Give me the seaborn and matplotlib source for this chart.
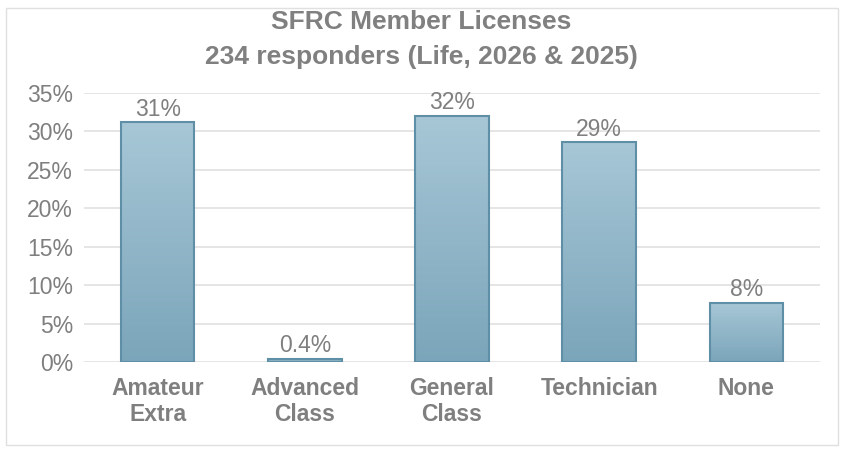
import numpy as np
import pandas as pd
import matplotlib.pyplot as plt
import matplotlib.colors as mcolors
from matplotlib.patches import Rectangle
import seaborn as sns

plt.switch_backend('Agg')

# data (234 responders)
categories = ['Amateur\nExtra', 'Advanced\nClass', 'General\nClass', 'Technician', 'None']
counts = [73, 1, 75, 67, 18]
total = 234
labels = ['31%', '0.4%', '32%', '29%', '8%']
yticks = [0, 5, 10, 15, 20, 25, 30, 35]

pct = [c / total * 100 for c in counts]
df = pd.DataFrame({'license': categories, 'pct': pct})

sns.set_theme(style='white')
plt.rcParams['font.family'] = ['Liberation Sans', 'DejaVu Sans']

W, H = 843, 455
fig = plt.figure(figsize=(W / 100, H / 100), dpi=100)
ax = fig.add_axes([84 / W, 1 - 362 / H, (820 - 84) / W, (362 - 93) / H])

sns.barplot(data=df, x='license', y='pct', ax=ax, width=0.5,
            color='#93b8ca', edgecolor='#5f8fa6', linewidth=1.5, zorder=3)

# vertical gradient per bar: lighter top, darker bottom
cmap = mcolors.LinearSegmentedColormap.from_list('bar', ['#7ba5ba', '#a7c7d6'])
grad = np.linspace(0, 1, 256).reshape(-1, 1)
for p in ax.patches:
    x0, y0 = p.get_x(), p.get_y()
    w, h = p.get_width(), p.get_height()
    im = ax.imshow(grad, cmap=cmap, aspect='auto', origin='lower',
                   extent=[x0, x0 + w, y0, y0 + h], zorder=3.5)
    im.set_clip_path(p)

for p, lab in zip(ax.patches, labels):
    p.set_zorder(4)
    p.set_facecolor('none')
    ax.annotate(lab, (p.get_x() + p.get_width() / 2, p.get_height()),
                xytext=(0, 1), textcoords='offset points', ha='center', va='bottom',
                fontsize=16.5, color='#7f7f7f', zorder=5)

ax.set_xlim(-0.5, len(categories) - 0.5)
ax.set_ylim(0, 35)
ax.set_yticks(yticks)
ax.set_yticklabels([f'{t}%' for t in yticks])
ax.yaxis.grid(True, color='#e3e3e3', linewidth=1.3, zorder=0)
ax.set_axisbelow(True)
for s in ax.spines.values():
    s.set_visible(False)
ax.tick_params(axis='y', length=0, pad=8, labelsize=16.5, labelcolor='#7f7f7f')
ax.tick_params(axis='x', length=0, pad=11, labelsize=16.5, labelcolor='#7f7f7f')
for t in ax.get_xticklabels():
    t.set_fontweight('bold')
    t.set_linespacing(1.15)
ax.set_xlabel('')
ax.set_ylabel('')

fig.text(0.5, 1 - 22 / H, 'SFRC Member Licenses', ha='center', va='center',
         fontsize=19, fontweight='bold', color='#808080')
fig.text(0.5, 1 - 57 / H, '234 responders (Life, 2026 & 2025)', ha='center', va='center',
         fontsize=19, fontweight='bold', color='#808080')

# chart-area border
fig.patches.append(Rectangle((6 / W, 1 - 445 / H), (838 - 6) / W, (445 - 8) / H,
                             transform=fig.transFigure, fill=False,
                             edgecolor='#e0e0e0', linewidth=1))

fig.savefig('out.png', dpi=100)
